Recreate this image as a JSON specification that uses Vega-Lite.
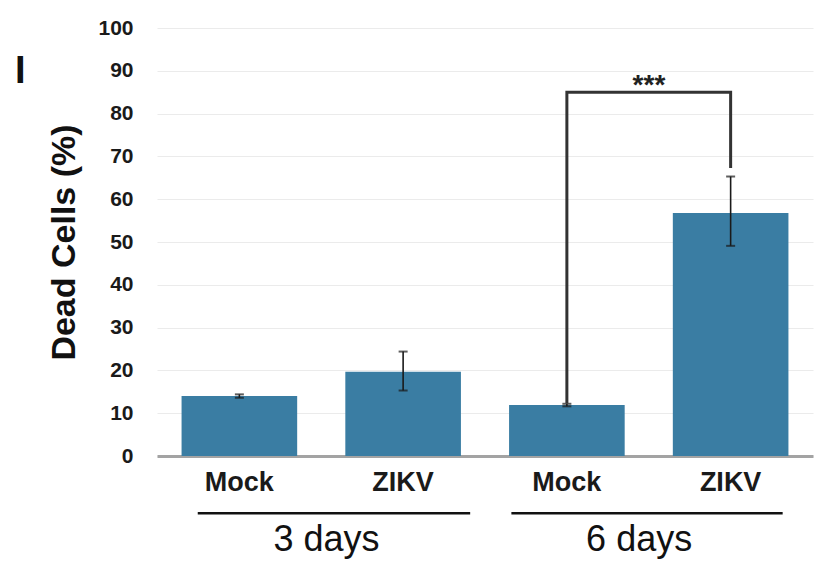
{
  "$schema": "https://vega.github.io/schema/vega-lite/v6.json",
  "width": 656,
  "height": 428,
  "autosize": {"type": "none"},
  "padding": {"left": 157, "top": 28, "right": 4, "bottom": 115},
  "background": "white",
  "config": {"view": {"stroke": null}, "font": "Liberation Sans"},
  "title": {
    "text": "I",
    "anchor": "start",
    "frame": "group",
    "orient": "top",
    "fontSize": 38,
    "fontWeight": "bold",
    "font": "Liberation Sans",
    "color": "#111111",
    "baseline": "alphabetic",
    "offset": 0,
    "dx": -142,
    "dy": 104
  },
  "datasets": {
    "bars": [
      {"key": "Mock|3 days", "group": "Mock", "day": "3 days", "value": 14.0, "lo": 13.6, "hi": 14.4},
      {"key": "ZIKV|3 days", "group": "ZIKV", "day": "3 days", "value": 19.7, "lo": 15.3, "hi": 24.4},
      {"key": "Mock|6 days", "group": "Mock", "day": "6 days", "value": 11.9, "lo": 11.6, "hi": 12.2},
      {"key": "ZIKV|6 days", "group": "ZIKV", "day": "6 days", "value": 56.8, "lo": 49.1, "hi": 65.3}
    ],
    "bracket": [
      {"key": "Mock|6 days", "step": 1, "y": 12.3},
      {"key": "Mock|6 days", "step": 2, "y": 85.0},
      {"key": "ZIKV|6 days", "step": 3, "y": 85.0},
      {"key": "ZIKV|6 days", "step": 4, "y": 67.3}
    ],
    "sig": [{"key": "Mock|6 days", "label": "***", "y": 84.6}],
    "groups": [
      {"day": "3 days", "first": "Mock|3 days", "last": "ZIKV|3 days"},
      {"day": "6 days", "first": "Mock|6 days", "last": "ZIKV|6 days"}
    ]
  },
  "layer": [
    {
      "data": {"name": "bars"},
      "mark": {"type": "bar", "color": "#3a7da3"},
      "encoding": {
        "x": {
          "field": "key",
          "type": "nominal",
          "scale": {
            "domain": ["Mock|3 days", "ZIKV|3 days", "Mock|6 days", "ZIKV|6 days"],
            "paddingInner": 0.294,
            "paddingOuter": 0.15
          },
          "axis": {
            "title": null,
            "labelExpr": "split(datum.label, '|')[0]",
            "labelFont": "Liberation Sans",
            "labelFontSize": 27,
            "labelFontWeight": "bold",
            "labelColor": "#1a1a1a",
            "labelPadding": 13,
            "labelAngle": 0,
            "ticks": false,
            "tickSize": 0,
            "domainColor": "#a3a3a3",
            "domainWidth": 3,
            "grid": false
          }
        },
        "y": {
          "field": "value",
          "type": "quantitative",
          "scale": {"domain": [0, 100], "nice": false, "zero": true},
          "axis": {
            "title": "Dead Cells (%)",
            "titleFont": "Liberation Sans",
            "titleFontSize": 34,
            "titleFontWeight": "bold",
            "titleColor": "#111111",
            "titleAngle": -90,
            "titleBaseline": "alphabetic",
            "titleX": -83,
            "values": [0, 10, 20, 30, 40, 50, 60, 70, 80, 90, 100],
            "labelFont": "Liberation Sans",
            "labelFontSize": 21,
            "labelFontWeight": "bold",
            "labelColor": "#1a1a1a",
            "labelPadding": 24,
            "ticks": false,
            "tickSize": 0,
            "domain": false,
            "grid": true,
            "gridColor": "#ebebeb",
            "gridWidth": 1
          }
        }
      }
    },
    {
      "data": {"name": "bars"},
      "mark": {"type": "rule", "color": "#1a1a1a", "strokeWidth": 1.6},
      "encoding": {
        "x": {"field": "key", "type": "nominal"},
        "y": {"field": "lo", "type": "quantitative"},
        "y2": {"field": "hi"}
      }
    },
    {
      "data": {"name": "bars"},
      "transform": [{"fold": ["lo", "hi"], "as": ["end", "v"]}],
      "mark": {"type": "tick", "color": "#1a1a1a", "size": 9, "thickness": 2, "orient": "horizontal"},
      "encoding": {
        "x": {"field": "key", "type": "nominal"},
        "y": {"field": "v", "type": "quantitative"}
      }
    },
    {
      "data": {"name": "bracket"},
      "mark": {"type": "line", "color": "#333333", "strokeWidth": 3, "strokeJoin": "miter", "strokeCap": "butt"},
      "encoding": {
        "x": {"field": "key", "type": "nominal"},
        "y": {"field": "y", "type": "quantitative"},
        "order": {"field": "step", "type": "quantitative"}
      }
    },
    {
      "data": {"name": "sig"},
      "mark": {"type": "text", "fontSize": 28, "fontWeight": "bold", "font": "Liberation Sans", "color": "#222222", "baseline": "alphabetic", "align": "center"},
      "encoding": {
        "x": {"field": "key", "type": "nominal", "bandPosition": 1.21},
        "y": {"field": "y", "type": "quantitative"},
        "text": {"field": "label"}
      }
    },
    {
      "data": {"name": "groups"},
      "transform": [{"filter": "datum.day == '3 days'"}],
      "mark": {"type": "rule", "color": "#111111", "strokeWidth": 2.5},
      "encoding": {
        "x": {"field": "first", "type": "nominal", "bandPosition": 0.14},
        "x2": {"field": "last", "bandPosition": 1.08},
        "y": {"datum": -13.4}
      }
    },
    {
      "data": {"name": "groups"},
      "transform": [{"filter": "datum.day == '6 days'"}],
      "mark": {"type": "rule", "color": "#111111", "strokeWidth": 2.5},
      "encoding": {
        "x": {"field": "first", "type": "nominal", "bandPosition": 0.02},
        "x2": {"field": "last", "bandPosition": 0.95},
        "y": {"datum": -13.4}
      }
    },
    {
      "data": {"name": "groups"},
      "transform": [{"filter": "datum.day == '3 days'"}],
      "mark": {"type": "text", "fontSize": 36, "font": "Liberation Sans", "color": "#111111", "baseline": "alphabetic", "align": "center"},
      "encoding": {
        "x": {"field": "first", "type": "nominal", "bandPosition": 1.254},
        "y": {"datum": -22.3},
        "text": {"field": "day"}
      }
    },
    {
      "data": {"name": "groups"},
      "transform": [{"filter": "datum.day == '6 days'"}],
      "mark": {"type": "text", "fontSize": 36, "font": "Liberation Sans", "color": "#111111", "baseline": "alphabetic", "align": "center"},
      "encoding": {
        "x": {"field": "first", "type": "nominal", "bandPosition": 1.125},
        "y": {"datum": -22.3},
        "text": {"field": "day"}
      }
    }
  ]
}
